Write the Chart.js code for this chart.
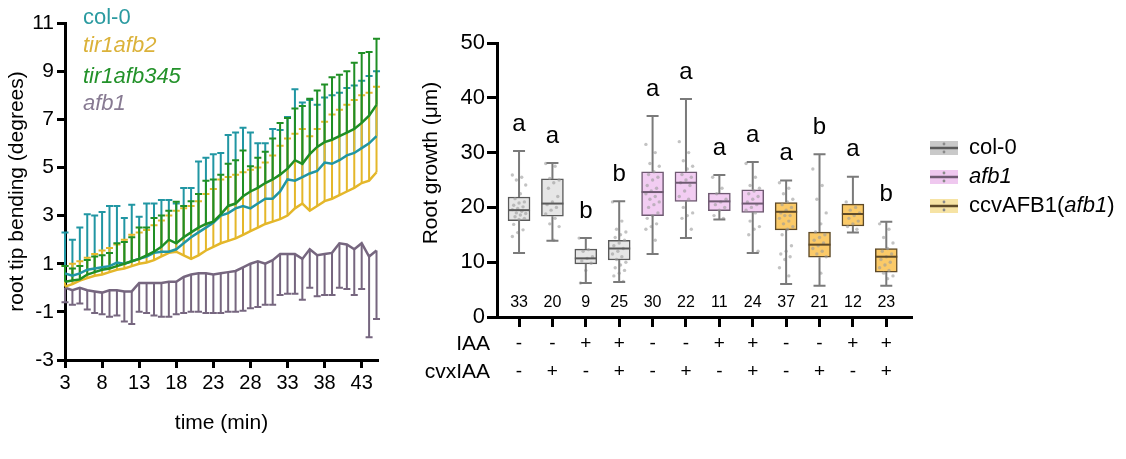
<!DOCTYPE html>
<html>
<head>
<meta charset="utf-8">
<script src="https://cdn.jsdelivr.net/npm/chart.js@4.4.1/dist/chart.umd.min.js"></script>
<style>
  html, body { margin: 0; padding: 0; background: #fff; }
  #wrap { position: relative; width: 1126px; height: 459px; overflow: hidden; }
  #left { position: absolute; left: 0; top: 0; }
  #right { position: absolute; left: 400px; top: 0; }
</style>
</head>
<body>
<div id="wrap">
  <canvas id="left" width="400" height="459"></canvas>
  <canvas id="right" width="726" height="459"></canvas>
</div>
<script>
const FONT = "'Liberation Sans', Arial, sans-serif";

// ---- left panel: root tip bending over time ----
const times = [3, 4, 5, 6, 7, 8, 9, 10, 11, 12, 13, 14, 15, 16, 17, 18, 19, 20, 21, 22, 23, 24,
               25, 26, 27, 28, 29, 30, 31, 32, 33, 34, 35, 36, 37, 38, 39, 40, 41, 42, 43, 44, 45];
const timeTicks = [3, 8, 13, 18, 23, 28, 33, 38, 43];
const bendTicks = [-3, -1, 1, 3, 5, 7, 9, 11];

const col0Mean = [0.6, 0.5, 0.6, 0.75, 0.8, 0.85, 0.9, 1.05, 1.0, 1.1, 1.2, 1.3, 1.45, 1.5, 1.5, 1.6, 1.85, 2.1, 2.3, 2.5, 2.7, 3.0,
                  3.1, 3.3, 3.4, 3.3, 3.5, 3.7, 3.7, 4.0, 4.5, 4.45, 4.6, 4.75, 4.85, 5.2, 5.15, 5.3, 5.5, 5.6, 5.8, 6.0, 6.3];
const col0Upper = [2.3, 2.0, 2.5, 3.05, 3.0, 3.15, 3.4, 3.4, 2.9, 3.45, 2.95, 3.5, 3.5, 3.65, 3.65, 3.5, 4.15, 4.15, 5.25, 5.4, 5.55, 5.6,
                   6.35, 6.45, 6.65, 6.45, 6.0, 6.0, 6.6, 6.55, 7.1, 8.25, 7.7, 7.8, 7.6, 7.9, 8.0, 8.1, 8.3, 8.4, 8.6, 8.8, 9.0];

const afb2Mean = [0.05, 0.15, 0.3, 0.4, 0.5, 0.55, 0.65, 0.75, 0.8, 0.9, 1.0, 1.05, 1.15, 1.3, 1.45, 1.5, 1.35, 1.2, 1.35, 1.55, 1.7, 1.85,
                  1.95, 2.05, 2.2, 2.35, 2.5, 2.65, 2.75, 2.85, 3.0, 3.3, 3.5, 3.2, 3.4, 3.6, 3.7, 3.85, 4.0, 4.15, 4.35, 4.45, 4.8];
const afb2Upper = [0.9, 1.0, 1.1, 1.25, 1.4, 1.55, 1.65, 1.8, 2.0, 2.2, 2.3, 2.4, 2.6, 2.8, 3.0, 3.2, 3.3, 3.4, 3.6, 3.9, 4.1, 4.5,
                   4.6, 4.7, 4.8, 4.9, 5.0, 5.2, 5.5, 5.9, 6.2, 6.4, 6.6, 6.3, 6.6, 6.9, 7.2, 7.4, 7.6, 7.8, 8.0, 8.1, 8.35];

const afb345Mean = [0.25, 0.3, 0.35, 0.55, 0.65, 0.75, 0.8, 0.9, 1.0, 1.1, 1.2, 1.35, 1.5, 1.7, 2.0, 1.85, 2.1, 2.3, 2.5, 2.65, 2.75, 3.05,
                    3.4, 3.5, 3.8, 4.0, 4.15, 4.35, 4.5, 4.7, 4.95, 5.3, 5.15, 5.55, 5.85, 6.05, 6.15, 6.3, 6.45, 6.6, 6.85, 7.15, 7.6];
const afb345Upper = [0.9, 0.8, 0.9, 1.15, 1.3, 1.35, 1.45, 1.85, 1.9, 2.1, 2.5, 2.5, 2.9, 3.0, 3.2, 3.57, 3.4, 3.6, 3.9, 4.45, 4.5, 4.7,
                     5.15, 5.3, 5.7, 5.05, 5.4, 5.65, 6.2, 6.85, 7.05, 7.45, 7.55, 7.85, 8.2, 8.45, 8.75, 8.85, 9.0, 9.35, 9.75, 9.8, 10.35];

const afb1Mean = [0.0, -0.1, 0.0, -0.1, -0.15, -0.2, -0.1, -0.1, -0.15, -0.15, 0.2, 0.2, 0.2, 0.2, 0.25, 0.25, 0.45, 0.55, 0.6, 0.6, 0.55, 0.6,
                  0.65, 0.7, 0.85, 1.0, 1.1, 1.0, 1.15, 1.4, 1.4, 1.4, 1.2, 1.6, 1.35, 1.4, 1.45, 1.85, 1.8, 1.6, 1.85, 1.3, 1.55];
const afb1Lower = [-0.6, -0.7, -0.65, -0.9, -1.05, -1.1, -1.2, -1.15, -1.4, -1.5, -1.0, -1.05, -1.15, -1.2, -1.2, -1.1, -1.05, -1.0, -1.0, -1.05, -1.05, -1.05,
                   -1.0, -1.0, -0.95, -0.85, -0.8, -0.7, -0.7, -0.3, -0.25, -0.25, -0.5, 0.0, -0.35, -0.3, -0.3, 0.0, -0.05, -0.3, -0.05, -2.05, -1.3];

const lineSeries = [
  { name: 'col-0', mean: col0Mean, bound: col0Upper, color: '#2196a3', text: '#2a9aa0', italic: false, order: 2, labelY: 18 },
  { name: 'tir1afb2', mean: afb2Mean, bound: afb2Upper, color: '#e4b72a', text: '#dbb23a', italic: true, order: 3, labelY: 46 },
  { name: 'tir1afb345', mean: afb345Mean, bound: afb345Upper, color: '#1f8f25', text: '#23922a', italic: true, order: 1, labelY: 77 },
  { name: 'afb1', mean: afb1Mean, bound: afb1Lower, color: '#76667f', text: '#877a92', italic: true, order: 4, labelY: 104 }
];
// error bar stacking, bottom to top
const barOrder = [lineSeries[3], lineSeries[0], lineSeries[1], lineSeries[2]];

const errorBars = {
  id: 'errorBars',
  beforeDatasetsDraw(chart) {
    const { ctx, scales: { x, y } } = chart;
    ctx.save();
    ctx.lineWidth = 2;
    barOrder.forEach(s => {
      ctx.strokeStyle = s.color;
      times.forEach((t, i) => {
        const px = x.getPixelForValue(t);
        const y0 = y.getPixelForValue(s.mean[i]);
        const y1 = y.getPixelForValue(s.bound[i]);
        ctx.beginPath();
        ctx.moveTo(px, y0);
        ctx.lineTo(px, y1);
        ctx.moveTo(px - 3.5, y1);
        ctx.lineTo(px + 3.5, y1);
        ctx.stroke();
      });
    });
    ctx.restore();
  }
};

const leftLegend = {
  id: 'leftLegend',
  afterDraw(chart) {
    const ctx = chart.ctx;
    ctx.save();
    ctx.textBaseline = 'middle';
    ctx.textAlign = 'left';
    lineSeries.forEach(s => {
      ctx.font = (s.italic ? 'italic ' : '') + '22px ' + FONT;
      ctx.fillStyle = s.text;
      ctx.fillText(s.name, 83, s.labelY);
    });
    ctx.restore();
  }
};

new Chart(document.getElementById('left'), {
  type: 'line',
  data: {
    datasets: lineSeries.map(s => ({
      label: s.name,
      data: times.map((t, i) => ({ x: t, y: s.mean[i] })),
      borderColor: s.color,
      borderWidth: 2.5,
      pointRadius: 0,
      tension: 0,
      order: s.order
    }))
  },
  options: {
    responsive: false,
    animation: false,
    layout: { padding: { left: 0, right: 22, top: 23, bottom: 19 } },
    plugins: { legend: { display: false }, tooltip: { enabled: false } },
    scales: {
      x: {
        type: 'linear', min: 3, max: 45.2,
        afterBuildTicks: ax => { ax.ticks = timeTicks.map(v => ({ value: v })); },
        afterFit: ax => { ax.height = 80; },
        border: { color: '#000', width: 3 },
        grid: { drawOnChartArea: false, tickLength: 8, tickWidth: 3, tickColor: '#000' },
        ticks: { color: '#000', font: { family: FONT, size: 20 }, padding: 3, maxRotation: 0, autoSkip: false },
        title: { display: true, text: 'time (min)', color: '#000', font: { family: FONT, size: 21 }, padding: { top: 4, bottom: 4 } }
      },
      y: {
        min: -3, max: 11,
        afterBuildTicks: ax => { ax.ticks = bendTicks.map(v => ({ value: v })); },
        afterFit: ax => { ax.width = 65; },
        border: { color: '#000', width: 3 },
        grid: { drawOnChartArea: false, tickLength: 8, tickWidth: 3, tickColor: '#000' },
        ticks: { color: '#000', font: { family: FONT, size: 21 }, padding: 3 },
        title: { display: true, text: 'root tip bending (degrees)', color: '#000', font: { family: FONT, size: 21 }, padding: { top: 5, bottom: 0 } }
      }
    }
  },
  plugins: [errorBars, leftLegend]
});

// ---- right panel: root growth box plots ----
const boxGroup = [0, 0, 0, 0, 1, 1, 1, 1, 2, 2, 2, 2];
const whiskerLow = [11.7, 13.9, 6.2, 6.4, 11.5, 14.4, 17.8, 11.7, 6.0, 5.7, 15.4, 5.7];
const q1 = [17.6, 18.4, 9.7, 10.4, 18.5, 21.1, 19.4, 19.1, 15.9, 10.9, 16.6, 8.2];
const median = [19.5, 20.7, 10.7, 12.5, 22.8, 24.5, 21.1, 20.7, 19.2, 13.2, 18.8, 11.0];
const q3 = [21.9, 25.2, 12.4, 14.0, 26.5, 26.5, 22.6, 23.2, 20.9, 15.5, 20.6, 12.5];
const whiskerHigh = [30.3, 28.1, 14.4, 21.1, 36.7, 39.8, 25.9, 28.3, 24.9, 29.7, 25.6, 17.4];
const nCounts = [33, 20, 9, 25, 30, 22, 11, 24, 37, 21, 12, 23];
const letters = ['a', 'a', 'b', 'b', 'a', 'a', 'a', 'a', 'a', 'b', 'a', 'b'];
const iaa = ['-', '-', '+', '+', '-', '-', '+', '+', '-', '-', '+', '+'];
const cvxIaa = ['-', '+', '-', '+', '-', '+', '-', '+', '-', '+', '-', '+'];
const growthTicks = [0, 10, 20, 30, 40, 50];
const boxDots = [
  [25.9, 25.5, 25.0, 24.1, 22.5, 21.6, 21.0, 20.8, 20.4, 20.1, 19.8, 19.6, 19.3, 19.0, 18.9, 18.6, 18.3, 18.0, 17.8, 16.9, 15.9, 15.4, 14.7],
  [28.0, 27.5, 25.3, 25.0, 24.5, 23.5, 22.0, 21.0, 20.5, 20.0, 19.5, 18.8, 18.0, 17.0, 16.5, 14.0],
  [14.4, 12.3, 12.0, 11.0, 10.7, 10.2, 9.8, 8.5, 6.2],
  [21.0, 17.5, 16.0, 15.5, 15.0, 14.5, 14.0, 13.5, 13.0, 12.5, 12.0, 11.5, 11.0, 10.5, 10.0, 9.5, 9.0, 8.5, 8.0, 7.5, 6.5],
  [31.5, 30.0, 28.0, 27.5, 26.5, 26.0, 25.5, 25.0, 24.0, 23.5, 23.0, 22.5, 22.0, 21.5, 21.0, 20.5, 20.0, 19.0, 18.5, 18.0, 17.0, 16.5, 16.0, 14.0],
  [32.0, 30.0, 28.5, 27.5, 27.0, 26.0, 25.5, 25.0, 24.5, 24.0, 23.0, 22.0, 21.5, 20.0, 19.0, 18.5, 18.0, 16.0],
  [25.5, 23.5, 22.5, 21.5, 21.0, 20.5, 20.0, 19.5, 18.5, 18.0],
  [28.0, 25.5, 24.0, 23.5, 23.0, 22.5, 22.0, 21.5, 21.0, 20.5, 20.0, 19.5, 19.0, 17.5, 16.5, 16.0, 15.0, 12.0],
  [24.5, 23.5, 22.5, 21.5, 21.0, 20.5, 20.0, 19.5, 19.0, 18.5, 18.5, 18.0, 17.5, 17.0, 16.5, 16.0, 15.0, 13.0, 12.0, 11.5, 11.0, 10.5, 9.0, 7.5],
  [27.0, 24.0, 21.5, 19.0, 17.0, 15.5, 15.0, 14.5, 14.0, 13.5, 13.0, 12.5, 12.0, 11.5, 11.0, 8.0],
  [21.0, 20.0, 19.5, 19.0, 18.5, 18.0, 17.5, 17.0, 16.5, 16.0],
  [17.0, 16.0, 14.5, 13.5, 12.5, 12.0, 11.5, 11.0, 10.5, 10.0, 9.5, 9.0, 8.5, 8.0, 7.5, 7.0]
];

const groupNames = ['col-0', 'afb1', 'ccvAFB1(afb1)'];
const boxFill = ['#e6e6e6', '#f2cdf2', '#fbca68'];
const boxEdge = ['#5a5a5a', '#6f5a72', '#5e4a28'];
const legendFill = ['#c9c9c9', '#efc8ef', '#f6e3a4'];

const dotPoints = [];
boxDots.forEach((vals, i) => {
  vals.forEach((v, k) => {
    dotPoints.push({ x: i + (((k * 7) % 11) - 5) * 0.04, y: v });
  });
});

const boxExtras = {
  id: 'boxExtras',
  afterDatasetsDraw(chart) {
    const { ctx, scales: { x, y } } = chart;
    ctx.save();
    boxGroup.forEach((g, i) => {
      const px = x.getPixelForValue(i);
      const yHi = y.getPixelForValue(whiskerHigh[i]);
      const yLo = y.getPixelForValue(whiskerLow[i]);
      ctx.strokeStyle = '#7a7a7a';
      ctx.lineWidth = 2;
      ctx.beginPath();
      ctx.moveTo(px, yHi); ctx.lineTo(px, y.getPixelForValue(q3[i]));
      ctx.moveTo(px, y.getPixelForValue(q1[i])); ctx.lineTo(px, yLo);
      ctx.moveTo(px - 6, yHi); ctx.lineTo(px + 6, yHi);
      ctx.moveTo(px - 6, yLo); ctx.lineTo(px + 6, yLo);
      ctx.stroke();
      ctx.strokeStyle = boxEdge[g];
      ctx.lineWidth = 2;
      ctx.beginPath();
      const ym = y.getPixelForValue(median[i]);
      ctx.moveTo(px - 11, ym); ctx.lineTo(px + 11, ym);
      ctx.stroke();
      ctx.fillStyle = '#000';
      ctx.textAlign = 'center';
      ctx.textBaseline = 'middle';
      ctx.font = '24px ' + FONT;
      ctx.fillText(letters[i], px, yHi - 27);
      ctx.font = '16px ' + FONT;
      ctx.fillText(String(nCounts[i]), px, y.getPixelForValue(0) - 14);
    });
    ctx.restore();
  },
  afterDraw(chart) {
    const { ctx, scales: { x, y } } = chart;
    ctx.save();
    ctx.fillStyle = '#000';
    // row labels of the treatment table
    ctx.textAlign = 'right';
    ctx.textBaseline = 'middle';
    ctx.font = '21px ' + FONT;
    ctx.fillText('IAA', 90, x.top + 13 + 14);
    ctx.fillText('cvxIAA', 90, x.top + 13 + 42);
    // y title
    ctx.save();
    ctx.translate(31, 163);
    ctx.rotate(-Math.PI / 2);
    ctx.textAlign = 'center';
    ctx.font = '21px ' + FONT;
    ctx.fillText('Root growth (\u03bcm)', 0, 0);
    ctx.restore();
    // legend
    const lx = 530;
    groupNames.forEach((name, g) => {
      const cy = 148 + g * 29;
      ctx.fillStyle = legendFill[g];
      ctx.fillRect(lx, cy - 7, 28, 14);
      ctx.strokeStyle = boxEdge[g];
      ctx.lineWidth = 2.5;
      ctx.beginPath();
      ctx.moveTo(lx, cy); ctx.lineTo(lx + 28, cy);
      ctx.stroke();
      ctx.fillStyle = '#8a8a8a';
      ctx.beginPath(); ctx.arc(lx + 14, cy - 4, 1.4, 0, Math.PI * 2); ctx.fill();
      ctx.beginPath(); ctx.arc(lx + 14, cy + 4, 1.4, 0, Math.PI * 2); ctx.fill();
      ctx.fillStyle = '#000';
      ctx.textAlign = 'left';
      let tx = lx + 39;
      const parts = g === 0 ? [['col-0', false]] : g === 1 ? [['afb1', true]] : [['ccvAFB1(', false], ['afb1', true], [')', false]];
      parts.forEach(([txt, it]) => {
        ctx.font = (it ? 'italic ' : '') + '22px ' + FONT;
        ctx.fillText(txt, tx, cy);
        tx += ctx.measureText(txt).width;
      });
    });
    ctx.restore();
  }
};

new Chart(document.getElementById('right'), {
  type: 'bar',
  data: {
    datasets: [
      {
        type: 'bar',
        data: q1.map((v, i) => ({ x: i, y: [v, q3[i]] })),
        backgroundColor: boxGroup.map(g => boxFill[g]),
        borderColor: boxGroup.map(g => boxEdge[g]),
        borderWidth: 1.5,
        borderSkipped: false,
        barThickness: 22,
        order: 2
      },
      {
        type: 'scatter',
        data: dotPoints,
        backgroundColor: 'rgba(155,155,155,0.6)',
        borderWidth: 0,
        pointRadius: 1.7,
        order: 1
      }
    ]
  },
  options: {
    responsive: false,
    animation: false,
    layout: { padding: { left: 0, right: 214, top: 43, bottom: 72 } },
    plugins: { legend: { display: false }, tooltip: { enabled: false } },
    scales: {
      x: {
        type: 'linear', min: -0.66, max: 11.77, offset: false,
        afterBuildTicks: ax => { ax.ticks = iaa.map((_, i) => ({ value: i })); },
        afterFit: ax => { ax.height = 70; },
        border: { color: '#000', width: 3 },
        grid: { drawOnChartArea: false, offset: false, tickLength: 10, tickWidth: 3, tickColor: '#000' },
        ticks: {
          color: '#000', font: { family: FONT, size: 19, lineHeight: '28px' }, padding: 3,
          maxRotation: 0, autoSkip: false,
          callback: (v, idx) => [iaa[idx], cvxIaa[idx]]
        }
      },
      y: {
        min: 0, max: 50,
        afterBuildTicks: ax => { ax.ticks = growthTicks.map(v => ({ value: v })); },
        afterFit: ax => { ax.width = 97; },
        border: { color: '#000', width: 3 },
        grid: { drawOnChartArea: false, tickLength: 10, tickWidth: 3, tickColor: '#000' },
        ticks: { color: '#000', font: { family: FONT, size: 22 }, padding: 2 }
      }
    }
  },
  plugins: [boxExtras]
});
</script>
</body>
</html>
